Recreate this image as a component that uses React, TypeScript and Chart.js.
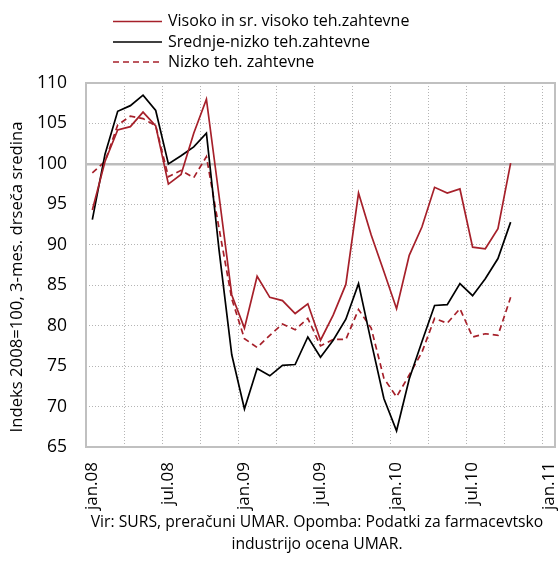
import React, { useEffect, useRef } from "react";
import { Chart, registerables } from "chart.js";

Chart.register(...registerables);

const monthNames = ["jan", "feb", "mar", "apr", "maj", "jun", "jul", "avg", "sep", "okt", "nov", "dec"];
const yearSuffixes = ["08", "09", "10", "11"];
const categories: string[] = [];
yearSuffixes.forEach((y) => monthNames.forEach((m) => categories.push(`${m}.${y}`)));
categories.splice(37); // jan.08 .. jan.11

const tickLabels = ["jan.08", "jul.08", "jan.09", "jul.09", "jan.10", "jul.10", "jan.11"];

// jan.08 .. okt.10
const visoko = [
  94.3, 100.3, 104.2, 104.6, 106.4, 104.7, 97.5, 98.7, 103.8, 108.0,
  96.0, 83.8, 79.7, 86.1, 83.5, 83.1, 81.5, 82.7, 78.2, 81.3,
  85.1, 96.4, 91.2, 86.7, 82.1, 88.7, 92.2, 97.1, 96.4, 96.9,
  89.7, 89.5, 92.0, 100.1,
];
const srednjeNizko = [
  93.1, 101.2, 106.5, 107.2, 108.5, 106.6, 100.0, 101.0, 102.1, 103.8,
  89.3, 76.4, 69.7, 74.7, 73.8, 75.1, 75.2, 78.6, 76.1, 78.2,
  80.8, 85.2, 78.0, 71.0, 67.0, 73.4, 78.0, 82.5, 82.6, 85.2,
  83.7, 85.8, 88.3, 92.8,
];
const nizko = [
  98.9, 100.3, 104.8, 105.9, 105.6, 104.7, 98.4, 99.2, 98.3, 100.9,
  92.0, 83.3, 78.4, 77.3, 78.8, 80.2, 79.5, 80.9, 77.5, 78.3,
  78.3, 82.0, 79.7, 73.5, 71.2, 73.9, 76.7, 80.9, 80.3, 82.1,
  78.6, 79.0, 78.8, 83.5,
];

const seriesNames = ["Visoko in sr. visoko teh.zahtevne", "Srednje-nizko teh.zahtevne", "Nizko teh. zahtevne"];
const yTitle = "Indeks 2008=100, 3-mes. drseča sredina";
const footerLines = ["Vir: SURS, preračuni UMAR. Opomba: Podatki za farmacevtsko", "industrijo ocena UMAR."];

const FONT = "'Open Sans', sans-serif";
const RED = "#A6202A";
const GRID = "#b4b4b4";

const pad = (arr: number[]) => categories.map((_, i) => (i < arr.length ? arr[i] : null));

const overlayPlugin = {
  id: "overlay",
  beforeDatasetsDraw(chart: any) {
    const { ctx, chartArea: a } = chart;
    ctx.save();
    ctx.strokeStyle = "#c0c0c0";
    ctx.lineWidth = 2;
    ctx.strokeRect(a.left, a.top, a.right - a.left, a.bottom - a.top);
    ctx.restore();
  },
  afterDraw(chart: any) {
    const { ctx } = chart;
    ctx.save();
    // legend
    const rows = [21.5, 42, 62];
    chart.data.datasets.forEach((ds: any, i: number) => {
      const y = rows[i];
      ctx.beginPath();
      ctx.strokeStyle = ds.borderColor;
      ctx.lineWidth = ds.borderWidth;
      ctx.setLineDash(ds.borderDash || []);
      ctx.moveTo(113, y);
      ctx.lineTo(162, y);
      ctx.stroke();
      ctx.setLineDash([]);
      ctx.fillStyle = "#000";
      ctx.font = `16px ${FONT}`;
      ctx.textAlign = "left";
      ctx.textBaseline = "middle";
      ctx.fillText(ds.label, 168, y);
    });
    // y axis title
    ctx.save();
    ctx.translate(17, 277);
    ctx.rotate(-Math.PI / 2);
    ctx.font = `16.7px ${FONT}`;
    ctx.textAlign = "center";
    ctx.textBaseline = "middle";
    ctx.fillStyle = "#000";
    ctx.fillText(yTitle, 0, 0);
    ctx.restore();
    // footer
    ctx.font = `15.7px ${FONT}`;
    ctx.textAlign = "center";
    ctx.textBaseline = "middle";
    ctx.fillStyle = "#000";
    footerLines.forEach((t, i) => ctx.fillText(t, 317, 523 + i * 22));
    ctx.restore();
  },
};

export default function App() {
  const ref = useRef<HTMLCanvasElement | null>(null);

  useEffect(() => {
    document.body.style.margin = "0";
    if (!ref.current) return;
    const chart = new Chart(ref.current, {
      type: "line",
      data: {
        labels: categories,
        datasets: [
          {
            label: seriesNames[0],
            data: pad(visoko),
            borderColor: RED,
            backgroundColor: RED,
            borderWidth: 1.7,
            pointRadius: 0,
            tension: 0,
          },
          {
            label: seriesNames[1],
            data: pad(srednjeNizko),
            borderColor: "#000000",
            backgroundColor: "#000000",
            borderWidth: 1.7,
            pointRadius: 0,
            tension: 0,
          },
          {
            label: seriesNames[2],
            data: pad(nizko),
            borderColor: RED,
            backgroundColor: RED,
            borderWidth: 1.7,
            borderDash: [6, 4],
            pointRadius: 0,
            tension: 0,
          },
        ],
      },
      options: {
        responsive: false,
        animation: false,
        devicePixelRatio: 1,
        layout: { padding: { top: 83, right: 4, bottom: 0, left: 0 } },
        plugins: {
          legend: { display: false },
          tooltip: { enabled: false },
          title: { display: false },
        },
        scales: {
          x: {
            type: "category",
            offset: true,
            grid: {
              offset: true,
              drawTicks: false,
              lineWidth: 1,
              color: (c: any) => (c.index % 3 === 0 ? GRID : "rgba(0,0,0,0)"),
            },
            border: { display: false, dash: [1, 2] },
            ticks: {
              autoSkip: false,
              maxRotation: 90,
              minRotation: 90,
              padding: 15,
              color: "#000",
              font: { family: FONT, size: 17 },
              callback: (_v: any, i: number) => (tickLabels.includes(categories[i]) ? categories[i] : ""),
            },
            afterFit: (s: any) => {
              s.height = 117;
              s.paddingLeft = 0;
              s.paddingRight = 0;
            },
          },
          y: {
            min: 65,
            max: 110,
            ticks: {
              stepSize: 5,
              padding: 19,
              color: "#000",
              font: { family: FONT, size: 17.5 },
            },
            grid: {
              drawTicks: false,
              color: (c: any) => (c.tick && c.tick.value === 100 ? "#bdbdbd" : GRID),
              lineWidth: (c: any) => (c.tick && c.tick.value === 100 ? 2.5 : 1),
            },
            border: {
              display: false,
              dash: (c: any) => (c.tick && c.tick.value === 100 ? [] : [1, 2]),
            },
            afterFit: (s: any) => {
              s.width = 86;
            },
          },
        },
      },
      plugins: [overlayPlugin],
    });
    return () => chart.destroy();
  }, []);

  return (
    <div style={{ position: "absolute", left: 0, top: 0, width: 559, height: 564 }}>
      <canvas ref={ref} width={559} height={564} style={{ width: 559, height: 564, display: "block" }} />
    </div>
  );
}
